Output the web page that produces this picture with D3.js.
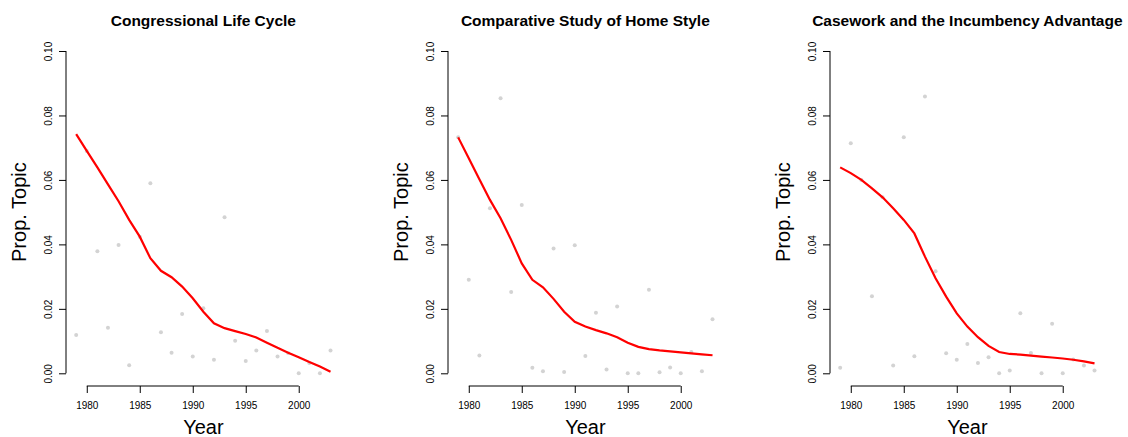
<!DOCTYPE html>
<html>
<head>
<meta charset="utf-8">
<script src="https://cdn.jsdelivr.net/npm/d3@7"></script>
<style>
  body { margin: 0; background: #fff; }
  text { font-family: "Liberation Sans", Arial, sans-serif; }
</style>
</head>
<body>
<div id="chart"></div>
<script>
const width = 1128, height = 437;

const years = d3.range(1979, 2004);
const titles = ["Congressional Life Cycle", "Comparative Study of Home Style", "Casework and the Incumbency Advantage"];

// observed proportions (grey dots), one per year 1979-2003
const cycleVals = [0.0119, 0.0690, 0.0379, 0.0141, 0.0398, 0.0025, 0.0424, 0.0590, 0.0127, 0.0064, 0.0184, 0.0052, 0.0202,
  0.0042, 0.0484, 0.0101, 0.0038, 0.0071, 0.0131, 0.0052, 0.0063, 0.0000, 0.0032, 0.0000, 0.0071];
const homeVals = [0.0732, 0.0290, 0.0055, 0.0512, 0.0853, 0.0252, 0.0522, 0.0017, 0.0006, 0.0387, 0.0004, 0.0397, 0.0054,
  0.0188, 0.0012, 0.0207, 0.0000, 0.0000, 0.0259, 0.0003, 0.0018, 0.0000, 0.0066, 0.0006, 0.0168];
const caseVals = [0.0017, 0.0714, 0.0600, 0.0239, 0.0546, 0.0024, 0.0732, 0.0053, 0.0859, 0.0317, 0.0062, 0.0042, 0.0091,
  0.0032, 0.0050, 0.0000, 0.0009, 0.0186, 0.0063, 0.0000, 0.0154, 0.0000, 0.0043, 0.0024, 0.0009];

// smoothed fits (red lines)
const cycleFit = [0.0742, 0.0690, 0.0639, 0.0586, 0.0534, 0.0476, 0.0424, 0.0357, 0.0318, 0.0298, 0.0269, 0.0233, 0.0191,
  0.0155, 0.0140, 0.0131, 0.0122, 0.0111, 0.0095, 0.0079, 0.0064, 0.0050, 0.0035, 0.0021, 0.0005];
const homeFit = [0.0732, 0.0667, 0.0602, 0.0538, 0.0481, 0.0414, 0.0341, 0.0290, 0.0267, 0.0231, 0.0191, 0.0160, 0.0145,
  0.0134, 0.0124, 0.0112, 0.0095, 0.0082, 0.0075, 0.0071, 0.0068, 0.0065, 0.0062, 0.0059, 0.0056];
const caseFit = [0.0639, 0.0621, 0.0600, 0.0574, 0.0546, 0.0512, 0.0476, 0.0434, 0.0362, 0.0295, 0.0238, 0.0186, 0.0145,
  0.0112, 0.0085, 0.0066, 0.0060, 0.0058, 0.0055, 0.0052, 0.0049, 0.0046, 0.0042, 0.0037, 0.0031];

const yTicks = [0, 0.02, 0.04, 0.06, 0.08, 0.10];
const xTicks = [1980, 1985, 1990, 1995, 2000];

const panels = [
  { title: titles[0], vals: cycleVals, fit: cycleFit },
  { title: titles[1], vals: homeVals, fit: homeFit },
  { title: titles[2], vals: caseVals, fit: caseFit }
];
const lefts = [66, 448, 830];
const plotW = 274.7;

const svg = d3.select("#chart").append("svg")
  .attr("width", width).attr("height", height);

const y = d3.scaleLinear().domain([-0.004, 0.104]).range([386.2, 38.1]);

panels.forEach((p, i) => {
  const x = d3.scaleLinear().domain([1978.04, 2003.96]).range([lefts[i], lefts[i] + plotW]);
  const g = svg.append("g");

  // y axis
  const ya = g.append("g")
    .attr("transform", `translate(${lefts[i]},0)`)
    .call(d3.axisLeft(y).tickValues(yTicks).tickSize(7).tickSizeOuter(0).tickFormat(d3.format(".2f")));
  ya.select(".domain").remove();
  ya.append("line").attr("y1", y(0)).attr("y2", y(0.1)).attr("stroke", "#000");
  ya.selectAll(".tick line").attr("stroke", "#000");
  ya.selectAll(".tick text")
    .attr("x", null).attr("dy", null)
    .attr("transform", "translate(-14.5,0) rotate(-90)")
    .attr("text-anchor", "middle")
    .attr("font-size", 10).attr("fill", "#000");

  // x axis
  const xa = g.append("g")
    .attr("transform", "translate(0,386)")
    .call(d3.axisBottom(x).tickValues(xTicks).tickSize(7).tickSizeOuter(0).tickFormat(d3.format("d")));
  xa.select(".domain").remove();
  xa.append("line").attr("x1", x(1980)).attr("x2", x(2000)).attr("stroke", "#000");
  xa.selectAll(".tick line").attr("stroke", "#000");
  xa.selectAll(".tick text")
    .attr("y", 23.3).attr("dy", null)
    .attr("font-size", 10).attr("fill", "#000");

  // points
  g.selectAll("circle")
    .data(years.map((yr, k) => ({ yr, v: p.vals[k] })))
    .join("circle")
    .attr("cx", d => x(d.yr))
    .attr("cy", d => y(d.v))
    .attr("r", 2)
    .attr("fill", "#d3d3d3");

  // fitted line
  g.append("path")
    .datum(years.map((yr, k) => ({ yr, v: p.fit[k] })))
    .attr("fill", "none")
    .attr("stroke", "#ff0000")
    .attr("stroke-width", 2.2)
    .attr("d", d3.line().x(d => x(d.yr)).y(d => y(d.v)));

  const cx = lefts[i] + plotW / 2;
  g.append("text")
    .attr("x", cx).attr("y", 25.5)
    .attr("text-anchor", "middle")
    .attr("font-size", 15.5).attr("font-weight", "bold")
    .text(p.title);

  g.append("text")
    .attr("x", cx).attr("y", 434)
    .attr("text-anchor", "middle")
    .attr("font-size", 20)
    .text("Year");

  g.append("text")
    .attr("transform", `translate(${lefts[i] - 40},${y(0.05)}) rotate(-90)`)
    .attr("text-anchor", "middle")
    .attr("font-size", 20)
    .text("Prop. Topic");
});
</script>
</body>
</html>
